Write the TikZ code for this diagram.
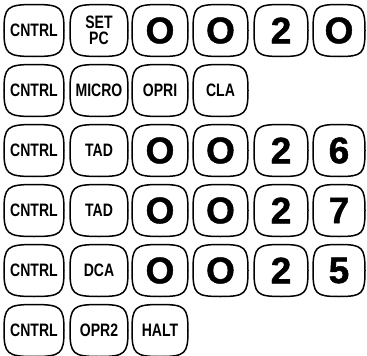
\documentclass[tikz,border=0pt]{standalone}
\usepackage{fontspec}
\usetikzlibrary{calc}
\newfontfamily\keyfont[FakeStretch=0.78]{Liberation Sans}
\newfontfamily\digfont[FakeBold=1.2]{Liberation Sans}
\tikzset{
  keybox/.style={minimum width=#1, minimum height=52pt, inner sep=0pt, outer sep=0pt},
  smallkey/.style={font=\keyfont\bfseries\fontsize{18}{16.5}\selectfont, align=center},
  bigkey/.style={font=\digfont\bfseries\fontsize{37}{37}\selectfont},
  keyline/.style={line width=1.5pt, black},
}
\newcommand\keyoutline[1]{%
  \draw[keyline] (#1.north)
    .. controls ($(#1.north)!0.9!(#1.north east)$) and ($(#1.east)!0.9!(#1.north east)$) .. (#1.east)
    .. controls ($(#1.east)!0.9!(#1.south east)$) and ($(#1.south)!0.9!(#1.south east)$) .. (#1.south)
    .. controls ($(#1.south)!0.9!(#1.south west)$) and ($(#1.west)!0.9!(#1.south west)$) .. (#1.west)
    .. controls ($(#1.west)!0.9!(#1.north west)$) and ($(#1.north)!0.9!(#1.north west)$) .. (#1.north) -- cycle;}
\newcommand\dig[1]{\raisebox{-2pt}{#1}}
\begin{document}
\begin{tikzpicture}[x=1pt,y=-1pt]
\useasboundingbox (0,0) rectangle (367,356);
% row 1
\node[keybox=60pt, smallkey] (a1) at (34,30.5) {CNTRL};
\node[keybox=58pt, smallkey] (a2) at (99,30.5) {SET\\PC};
\node[keybox=56pt, bigkey] (a3) at (160,30.5) {\dig{O}};
\node[keybox=55pt, bigkey] (a4) at (220.5,30.5) {\dig{O}};
\node[keybox=54pt, bigkey] (a5) at (281,30.5) {\dig{2}};
\node[keybox=52pt, bigkey] (a6) at (339,30.5) {\dig{O}};
% row 2
\node[keybox=60pt, smallkey] (b1) at (34,90.5) {CNTRL};
\node[keybox=58pt, smallkey] (b2) at (99,90.5) {MICRO};
\node[keybox=56pt, smallkey] (b3) at (160,90.5) {OPRI};
\node[keybox=55pt, smallkey] (b4) at (220.5,90.5) {CLA};
% row 3
\node[keybox=60pt, smallkey] (c1) at (34,150.5) {CNTRL};
\node[keybox=58pt, smallkey] (c2) at (99,150.5) {TAD};
\node[keybox=56pt, bigkey] (c3) at (160,150.5) {\dig{O}};
\node[keybox=55pt, bigkey] (c4) at (220.5,150.5) {\dig{O}};
\node[keybox=54pt, bigkey] (c5) at (281,150.5) {\dig{2}};
\node[keybox=52pt, bigkey] (c6) at (339,150.5) {\dig{6}};
% row 4
\node[keybox=60pt, smallkey] (d1) at (34,210.5) {CNTRL};
\node[keybox=58pt, smallkey] (d2) at (99,210.5) {TAD};
\node[keybox=56pt, bigkey] (d3) at (160,210.5) {\dig{O}};
\node[keybox=55pt, bigkey] (d4) at (220.5,210.5) {\dig{O}};
\node[keybox=54pt, bigkey] (d5) at (281,210.5) {\dig{2}};
\node[keybox=52pt, bigkey] (d6) at (339,210.5) {\dig{7}};
% row 5
\node[keybox=60pt, smallkey] (e1) at (34,270.5) {CNTRL};
\node[keybox=58pt, smallkey] (e2) at (99,270.5) {DCA};
\node[keybox=56pt, bigkey] (e3) at (160,270.5) {\dig{O}};
\node[keybox=55pt, bigkey] (e4) at (220.5,270.5) {\dig{O}};
\node[keybox=54pt, bigkey] (e5) at (281,270.5) {\dig{2}};
\node[keybox=52pt, bigkey] (e6) at (339,270.5) {\dig{5}};
% row 6
\node[keybox=60pt, smallkey] (f1) at (34,330.5) {CNTRL};
\node[keybox=58pt, smallkey] (f2) at (99,330.5) {OPR2};
\node[keybox=56pt, smallkey] (f3) at (160,330.5) {HALT};
% outlines
\foreach \k in {a1,a2,a3,a4,a5,a6,b1,b2,b3,b4,c1,c2,c3,c4,c5,c6,d1,d2,d3,d4,d5,d6,e1,e2,e3,e4,e5,e6,f1,f2,f3}
  {\keyoutline{\k}}
\end{tikzpicture}
\end{document}
